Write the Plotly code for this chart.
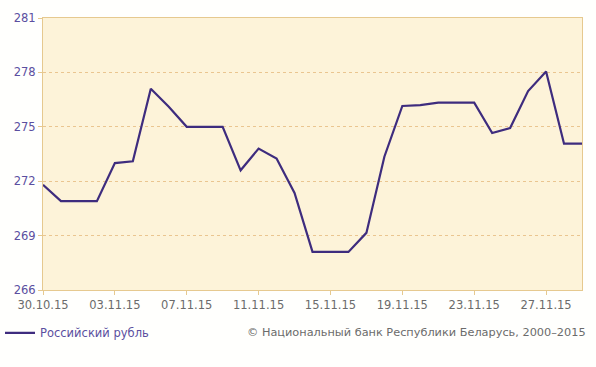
import plotly.graph_objects as go
import pandas as pd

dates = pd.date_range("2015-10-30", "2015-11-29", freq="D").strftime("%Y-%m-%d").tolist()
values = [271.8, 270.9, 270.9, 270.9, 273.0, 273.1, 277.1, 276.1, 275.0, 275.0,
          275.0, 272.6, 273.8, 273.25, 271.35, 268.1, 268.1, 268.1, 269.15, 273.35,
          276.15, 276.2, 276.33, 276.33, 276.33, 274.66, 274.93, 276.97, 278.05, 274.07,
          274.07]
series_name = "Российский рубль"
tick_dates = ["2015-10-30", "2015-11-03", "2015-11-07", "2015-11-11", "2015-11-15",
              "2015-11-19", "2015-11-23", "2015-11-27"]
tick_labels = ["30.10.15", "03.11.15", "07.11.15", "11.11.15", "15.11.15",
               "19.11.15", "23.11.15", "27.11.15"]
y_ticks = [266, 269, 272, 275, 278, 281]
copyright_text = "© Национальный банк Республики Беларусь, 2000–2015"

axis_col = "#e6c98f"
fig = go.Figure()
fig.add_trace(go.Scatter(x=dates, y=values, mode="lines", name=series_name,
                         line=dict(color="#3e2c7e", width=2.2)))
fig.update_layout(
    width=596, height=367,
    margin=dict(l=43, r=14, t=18, b=77, autoexpand=False),
    paper_bgcolor="#fffffd", plot_bgcolor="#fdf3d9",
    font=dict(family="DejaVu Sans, Verdana, sans-serif", size=11),
    showlegend=True,
    legend=dict(orientation="h", xref="container", yref="container",
                x=-0.027, xanchor="left", y=0.093, yanchor="middle",
                font=dict(color="#5b4fa0", size=11.5), bgcolor="rgba(0,0,0,0)"),
    xaxis=dict(type="date", range=[dates[0], dates[-1]], tickvals=tick_dates,
               ticktext=tick_labels, showgrid=False, showline=True, linecolor=axis_col,
               linewidth=1, mirror=True, ticks="outside", ticklen=4, tickcolor=axis_col,
               tickfont=dict(color="#6b6b6b", size=11.5)),
    yaxis=dict(range=[266, 281], tickvals=y_ticks, showgrid=True, gridcolor="#eac590",
               griddash="dot", gridwidth=1, showline=True, linecolor=axis_col, linewidth=1,
               mirror=True, ticks="outside", ticklen=4, tickcolor=axis_col,
               tickfont=dict(color="#5b4fa0", size=11.5), zeroline=False),
)
fig.add_annotation(text=copyright_text, xref="paper", yref="paper", x=1.012, y=-0.158,
                   xanchor="right", yanchor="middle", showarrow=False,
                   font=dict(color="#6b6b6b", size=11.3))
fig.write_html("out.html", config={"displayModeBar": False},
               post_script="document.body.style.margin='0';document.body.style.overflow='hidden';")
